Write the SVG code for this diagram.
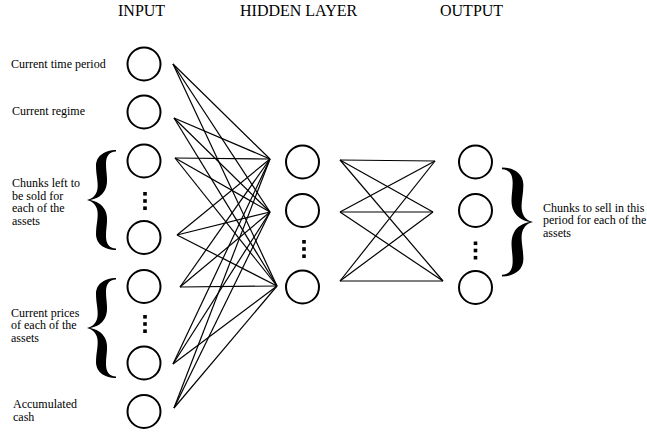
<svg xmlns="http://www.w3.org/2000/svg" width="647" height="435" viewBox="0 0 647 435">
<style>
.hd{font-family:"Liberation Serif","Times New Roman",serif;font-size:16px;fill:#000}
.lb{font-family:"Liberation Serif","Times New Roman",serif;font-size:12px;fill:#000}
.nd{fill:#fff;stroke:#000;stroke-width:2}
.cn line{stroke:#000;stroke-width:1.2}
.dot{fill:#000}
.br{fill:#000}
</style>
<defs>
<path id="brace" d="M29,-50 C19,-50 9,-45 9,-34 C9,-24 12,-16 10,-9 C8,-3 4,-1 0,0 C4,1 8,3 10,9 C12,16 9,24 9,34 C9,45 19,50 29,50 L29,48.5 C22,48 19,44 19,36 C19,26 22,18 18,10 C15,4 9,1 3,0 C9,-1 15,-4 18,-10 C22,-18 19,-26 19,-36 C19,-44 22,-48 29,-48.5 Z"/>
<g id="vdots"><rect x="-1.8" y="-9" width="3.6" height="3.6"/><rect x="-1.8" y="-1.8" width="3.6" height="3.6"/><rect x="-1.8" y="5.4" width="3.6" height="3.6"/></g>
</defs>
<rect width="647" height="435" fill="#fff"/>
<text class="hd" x="118" y="16">INPUT</text>
<text class="hd" x="240" y="16">HIDDEN LAYER</text>
<text class="hd" x="440" y="16">OUTPUT</text>
<g class="cn" id="connectors">
<line x1="173" y1="64" x2="270" y2="159"/><line x1="173" y1="64" x2="270" y2="212"/><line x1="173" y1="64" x2="277" y2="286"/>
<line x1="174" y1="118" x2="270" y2="159"/><line x1="174" y1="118" x2="270" y2="212"/><line x1="174" y1="118" x2="277" y2="286"/>
<line x1="175" y1="158" x2="270" y2="159"/><line x1="175" y1="158" x2="270" y2="212"/><line x1="175" y1="158" x2="277" y2="286"/>
<line x1="177" y1="235" x2="270" y2="159"/><line x1="177" y1="235" x2="270" y2="212"/><line x1="177" y1="235" x2="277" y2="286"/>
<line x1="180" y1="287" x2="270" y2="159"/><line x1="180" y1="287" x2="270" y2="212"/><line x1="180" y1="287" x2="277" y2="286"/>
<line x1="173" y1="364" x2="270" y2="159"/><line x1="173" y1="364" x2="270" y2="212"/><line x1="173" y1="364" x2="277" y2="286"/>
<line x1="174" y1="408" x2="270" y2="159"/><line x1="174" y1="408" x2="270" y2="212"/><line x1="174" y1="408" x2="277" y2="286"/>
<line x1="340" y1="160" x2="435" y2="161"/><line x1="340" y1="160" x2="433" y2="212"/><line x1="340" y1="160" x2="443" y2="281"/>
<line x1="340" y1="212" x2="435" y2="161"/><line x1="340" y1="212" x2="433" y2="212"/><line x1="340" y1="212" x2="443" y2="281"/>
<line x1="340" y1="281" x2="435" y2="161"/><line x1="340" y1="281" x2="433" y2="212"/><line x1="340" y1="281" x2="443" y2="281"/>
</g>
<g id="in1"><circle class="nd" cx="144" cy="64" r="16.5"/><text class="lb" x="11" y="68">Current time period</text></g>
<g id="in2"><circle class="nd" cx="144" cy="112" r="16.5"/><text class="lb" x="12" y="115">Current regime</text></g>
<g id="in3"><circle class="nd" cx="144" cy="161" r="16.5"/></g>
<g id="in-dots1" class="dot"><use href="#vdots" x="145" y="201"/></g>
<g id="in4"><circle class="nd" cx="144" cy="237.5" r="16.5"/></g>
<g id="chunks-left"><use href="#brace" class="br" transform="translate(87,200)"/>
<text class="lb" x="12" y="187">Chunks left to</text><text class="lb" x="12" y="199.5">be sold for</text><text class="lb" x="12" y="212">each of the</text><text class="lb" x="12" y="224.5">assets</text></g>
<g id="in5"><circle class="nd" cx="144" cy="286.5" r="16.5"/></g>
<g id="in-dots2" class="dot"><use href="#vdots" x="145" y="324"/></g>
<g id="in6"><circle class="nd" cx="144" cy="363" r="16.5"/></g>
<g id="prices"><use href="#brace" class="br" transform="translate(87,328)"/>
<text class="lb" x="11" y="316.5">Current prices</text><text class="lb" x="11" y="329">of each of the</text><text class="lb" x="11" y="341.5">assets</text></g>
<g id="in7"><circle class="nd" cx="144" cy="411.5" r="16.5"/><text class="lb" x="13" y="408">Accumulated</text><text class="lb" x="13" y="421">cash</text></g>
<g id="h1"><circle class="nd" cx="302.5" cy="162" r="16.5"/></g>
<g id="h2"><circle class="nd" cx="302.5" cy="210.5" r="16.5"/></g>
<g id="h-dots" class="dot"><use href="#vdots" x="304" y="249"/></g>
<g id="h3"><circle class="nd" cx="302.5" cy="287" r="16.5"/></g>
<g id="o1"><circle class="nd" cx="475.5" cy="162" r="16.5"/></g>
<g id="o2"><circle class="nd" cx="475.5" cy="210.5" r="16.5"/></g>
<g id="o-dots" class="dot"><use href="#vdots" x="475.5" y="250.5"/></g>
<g id="o3"><circle class="nd" cx="475.5" cy="287.5" r="16.5"/></g>
<g id="chunks-sell"><use href="#brace" class="br" transform="translate(533,222) scale(-1.07,1.09)"/>
<text class="lb" x="543" y="211.5">Chunks to sell in this</text><text class="lb" x="543" y="224">period for each of the</text><text class="lb" x="543" y="236.5">assets</text></g>
</svg>
